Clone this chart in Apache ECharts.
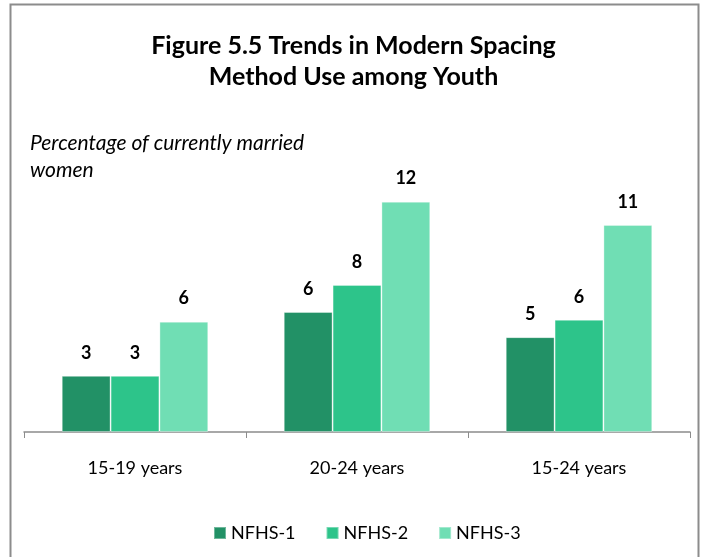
<!DOCTYPE html>
<html>
<head>
<meta charset="utf-8">
<script src="https://cdn.jsdelivr.net/npm/echarts@6/dist/echarts.min.js"></script>
<style>
  html, body { margin: 0; padding: 0; background: #fff; }
  #main { width: 707px; height: 557px; }
</style>
</head>
<body>
<div id="main"></div>
<script>
var categories = ['15-19 years', '20-24 years', '15-24 years'];
var seriesNames = ['NFHS-1', 'NFHS-2', 'NFHS-3'];
var nfhs1 = [2.9, 6.2, 4.9];
var nfhs2 = [2.9, 7.6, 5.8];
var nfhs3 = [5.7, 11.9, 10.7];
var colors = ['#229166', '#2dc48a', '#70deb4'];

var font = 'Lato, "Open Sans", sans-serif';
var chart = echarts.init(document.getElementById('main'));

function makeSeries(name, data, color) {
  return {
    name: name,
    type: 'bar',
    data: data,
    barGap: '0%',
    barCategoryGap: '34%',
    itemStyle: { color: color, borderColor: 'rgba(255,255,255,0.35)', borderWidth: 1 },
    label: {
      show: true,
      position: 'top',
      distance: 14,
      color: '#000',
      fontFamily: font,
      fontWeight: 'bold',
      fontSize: 18,
      formatter: function (p) { return Math.round(p.value); }
    }
  };
}

var option = {
  backgroundColor: '#fff',
  animation: false,
  title: {
    text: 'Figure 5.5 Trends in Modern Spacing\nMethod Use among Youth',
    left: 'center',
    top: 25,
    textStyle: { fontFamily: font, fontWeight: 'bold', fontSize: 25, lineHeight: 31, color: '#000' }
  },
  graphic: [
    {
      type: 'rect',
      shape: { x: 10.5, y: 4.5, width: 688, height: 600 },
      style: { fill: 'none', stroke: '#8c8c8c', lineWidth: 2 }
    },
    {
      type: 'text',
      left: 30,
      top: 130,
      style: {
        text: 'Percentage of currently married\nwomen',
        fontFamily: font,
        fontStyle: 'italic',
        fontSize: 21,
        lineHeight: 27,
        fill: '#000'
      }
    }
  ],
  legend: {
    data: seriesNames,
    bottom: 10,
    left: 208,
    itemWidth: 12,
    itemHeight: 12,
    itemGap: 30,
    icon: 'rect',
    textStyle: { fontFamily: font, fontSize: 18, color: '#000' }
  },
  grid: { left: 24, right: 17, top: 161, bottom: 125 },
  xAxis: {
    type: 'category',
    data: categories,
    axisLine: { lineStyle: { color: '#8c8c8c', width: 1.5 } },
    axisTick: { show: true, length: 6, lineStyle: { color: '#8c8c8c' } },
    axisLabel: { fontFamily: font, fontSize: 18, color: '#000', margin: 27 }
  },
  yAxis: {
    type: 'value',
    min: 0,
    max: 14,
    show: false,
    splitLine: { show: false }
  },
  series: [
    makeSeries(seriesNames[0], nfhs1, colors[0]),
    makeSeries(seriesNames[1], nfhs2, colors[1]),
    makeSeries(seriesNames[2], nfhs3, colors[2])
  ]
};

chart.setOption(option);
</script>
</body>
</html>
